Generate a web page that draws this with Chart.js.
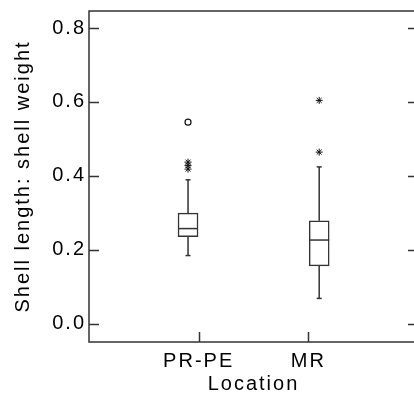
<!DOCTYPE html>
<html>
<head>
<meta charset="utf-8">
<script src="https://cdn.jsdelivr.net/npm/chart.js@4/dist/chart.umd.min.js"></script>
<style>
    html, body { margin: 0; padding: 0; background: #fff; }
    .clip { width: 414px; height: 394px; overflow: hidden; }
    canvas { display: block; }
</style>
</head>
<body>
<div class="clip"><canvas id="myChart" width="420" height="394"></canvas></div>
<script>
// values
const locations = ["PR-PE", "MR"];
const whiskerLow = [0.184, 0.068];
const q1 = [0.235, 0.156];
const medians = [0.257, 0.226];
const q3 = [0.299, 0.278];
const whiskerHigh = [0.389, 0.424];
const starOutliers = [[0.437, 0.428, 0.418], [0.604, 0.464]];
const circleOutliers = [[0.545], []];
const yTicks = [0.0, 0.2, 0.4, 0.6, 0.8];

// boxes sit a little off their category tick in the original
const boxShift = [-0.097, 0.099];
const lineColor = "#333";
const font = { family: "'Liberation Sans', Arial, sans-serif", size: 20 };

window.addEventListener("DOMContentLoaded", function() {
    let centers = locations.map((name, i) => i + 1 + boxShift[i]);

    let boxData = centers.map((c, i) => ({ x: c, y: [q1[i], q3[i]] }));
    let medianData = centers.map((c, i) => ({ x: c, y: medians[i] }));
    let whiskerData = [];
    let capData = [];
    centers.forEach((c, i) => {
        whiskerData.push({ x: c, y: q3[i] }, { x: c, y: whiskerHigh[i] }, { x: c, y: null });
        whiskerData.push({ x: c, y: q1[i] }, { x: c, y: whiskerLow[i] }, { x: c, y: null });
        capData.push({ x: c, y: whiskerHigh[i] }, { x: c, y: whiskerLow[i] });
    });
    let starData = [];
    let circleData = [];
    centers.forEach((c, i) => {
        starOutliers[i].forEach(v => starData.push({ x: c, y: v }));
        circleOutliers[i].forEach(v => circleData.push({ x: c, y: v }));
    });

    // the original lettering is wider than Arial
    const spacingPlugin = {
        id: "spacing",
        beforeUpdate(chart) { chart.ctx.letterSpacing = "2px"; },
        beforeDraw(chart) { chart.ctx.letterSpacing = "2px"; }
    };

    // frame and inward tick marks
    const framePlugin = {
        id: "frame",
        afterDraw(chart) {
            let ctx = chart.ctx;
            let area = chart.chartArea;
            let xs = chart.scales.x;
            let ys = chart.scales.y;
            ctx.save();
            ctx.strokeStyle = lineColor;
            ctx.lineWidth = 1.5;
            ctx.strokeRect(area.left, area.top, area.right - area.left, area.bottom - area.top);
            ctx.beginPath();
            ys.ticks.forEach(t => {
                let py = Math.round(ys.getPixelForValue(t.value)) + 0.5;
                ctx.moveTo(area.left, py);
                ctx.lineTo(area.left + 10, py);
                ctx.moveTo(area.right, py);
                ctx.lineTo(area.right - 10, py);
            });
            xs.ticks.forEach(t => {
                let px = Math.round(xs.getPixelForValue(t.value)) + 0.5;
                ctx.moveTo(px, area.bottom);
                ctx.lineTo(px, area.bottom - 10);
            });
            ctx.stroke();
            ctx.restore();
        }
    };

    const ctx = document.getElementById("myChart").getContext("2d");
    const myChart = new Chart(ctx, {
        type: "scatter",
        data: {
            datasets: [
                {
                    type: "bar",
                    data: boxData,
                    backgroundColor: "#fff",
                    borderColor: lineColor,
                    borderWidth: 1.5,
                    borderSkipped: false,
                    barThickness: 20,
                    grouped: false,
                    order: 2
                },
                {
                    type: "line",
                    data: whiskerData,
                    borderColor: lineColor,
                    borderWidth: 1.5,
                    pointRadius: 0,
                    spanGaps: false,
                    order: 3
                },
                {
                    data: capData,
                    pointStyle: "line",
                    pointRadius: 2.5,
                    borderColor: lineColor,
                    pointBorderWidth: 1.5,
                    order: 1
                },
                {
                    data: medianData,
                    pointStyle: "line",
                    pointRadius: 10,
                    borderColor: lineColor,
                    pointBorderWidth: 1.5,
                    order: 0
                },
                {
                    data: starData,
                    pointStyle: "star",
                    pointRadius: 3.5,
                    borderColor: "#111",
                    pointBorderWidth: 1,
                    order: 0
                },
                {
                    data: circleData,
                    pointStyle: "circle",
                    pointRadius: 3,
                    backgroundColor: "#fff",
                    borderColor: "#111",
                    pointBorderWidth: 1.2,
                    order: 0
                }
            ]
        },
        plugins: [spacingPlugin, framePlugin],
        options: {
            responsive: false,
            animation: false,
            events: [],
            // the frame runs past the right edge of the picture
            layout: { autoPadding: false, padding: { top: 11, right: 2, left: 0, bottom: 0 } },
            plugins: {
                legend: { display: false },
                tooltip: { enabled: false }
            },
            scales: {
                x: {
                    type: "linear",
                    min: 0,
                    max: 3,
                    offset: false,
                    grid: { display: false, drawTicks: false },
                    border: { display: false },
                    afterBuildTicks: scale => {
                        scale.ticks = locations.map((n, i) => ({ value: i + 1 }));
                    },
                    afterFit: scale => {
                        scale.height = 52;
                        scale.paddingLeft = 0;
                        scale.paddingRight = 0;
                    },
                    ticks: {
                        padding: 7,
                        color: "#000",
                        font: font,
                        callback: v => locations[v - 1]
                    },
                    title: {
                        display: true,
                        text: "Location",
                        color: "#000",
                        font: { family: font.family, size: 20, lineHeight: 1 },
                        padding: { top: 0, bottom: 0 }
                    }
                },
                y: {
                    type: "linear",
                    min: -0.05,
                    max: 0.846,
                    grid: { display: false, drawTicks: false },
                    border: { display: false },
                    afterBuildTicks: scale => {
                        scale.ticks = yTicks.map(v => ({ value: v }));
                    },
                    afterFit: scale => {
                        scale.width = 89;
                        scale.paddingTop = 0;
                        scale.paddingBottom = 0;
                    },
                    ticks: {
                        padding: 3,
                        color: "#000",
                        font: font,
                        callback: v => v.toFixed(1)
                    },
                    title: {
                        display: true,
                        text: "Shell length: shell weight",
                        color: "#000",
                        font: font,
                        padding: { top: 11, bottom: 0 }
                    }
                }
            }
        }
    });
});
</script>
</body>
</html>
